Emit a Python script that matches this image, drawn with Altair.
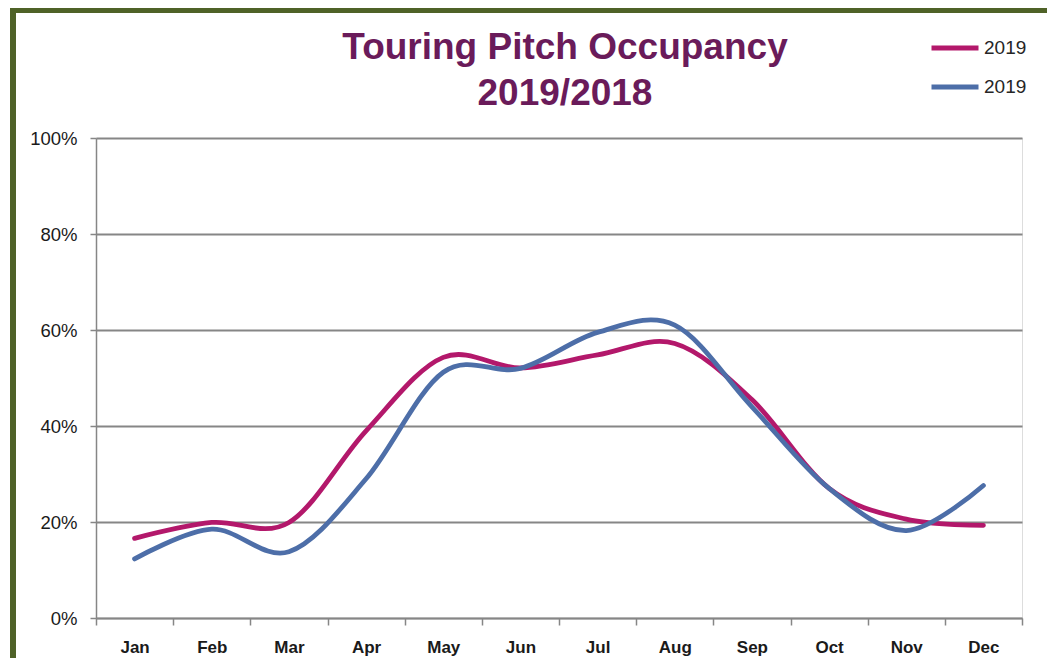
import altair as alt
import pandas as pd

months = ["Jan", "Feb", "Mar", "Apr", "May", "Jun", "Jul", "Aug", "Sep", "Oct", "Nov", "Dec"]
series_keys = ["2019-a", "2019-b"]
legend_labels = ["2019", "2019"]
occ_a = [16.6, 19.9, 19.9, 39.0, 54.3, 52.1, 54.8, 57.2, 45.5, 27.0, 20.6, 19.3]
occ_b = [12.3, 18.5, 13.8, 29.0, 51.2, 52.0, 59.5, 61.0, 44.0, 27.0, 18.2, 27.6]
title_lines = ["Touring Pitch Occupancy", "2019/2018"]
y_ticks = [0, 20, 40, 60, 80, 100]

rows = []
for m, a, b in zip(months, occ_a, occ_b):
    rows.append({"month": m, "series": series_keys[0], "value": a / 100})
    rows.append({"month": m, "series": series_keys[1], "value": b / 100})
df = pd.DataFrame(rows)

GRID = "#868686"
FONT = "Liberation Sans"
TITLE_COLOR = "#6A1B5A"

lines = alt.Chart(df).mark_line(
    interpolate="cardinal", strokeWidth=4.8, strokeCap="round"
).encode(
    x=alt.X(
        "month:N",
        sort=months,
        bandPosition=0.5,
        scale=alt.Scale(type="band", domain=months, paddingInner=0, paddingOuter=0),
        axis=alt.Axis(
            title=None,
            tickBand="extent",
            labelAngle=0,
            labelFont=FONT,
            labelFontSize=17,
            labelFontWeight="bold",
            labelColor="#1a1a1a",
            labelPadding=14,
            tickSize=7,
            tickColor=GRID,
            tickWidth=1.5,
            domainColor=GRID,
            domainWidth=1.5,
            grid=False,
        ),
    ),
    y=alt.Y(
        "value:Q",
        scale=alt.Scale(domain=[0, 1], nice=False),
        axis=alt.Axis(
            title=None,
            format=".0%",
            values=[v / 100 for v in y_ticks],
            labelFont=FONT,
            labelFontSize=18.5,
            labelColor="#1a1a1a",
            labelPadding=13,
            tickSize=6,
            tickColor=GRID,
            tickWidth=1.5,
            domainColor=GRID,
            domainWidth=1.5,
            grid=True,
            gridColor=GRID,
            gridWidth=1.8,
        ),
    ),
    color=alt.Color(
        "series:N",
        scale=alt.Scale(domain=series_keys, range=["#B3186B", "#4D6EA8"]),
        legend=alt.Legend(
            title=None,
            orient="none",
            legendX=833,
            legendY=-116,
            symbolType="stroke",
            symbolSize=2209,
            symbolStrokeWidth=4.8,
            labelExpr="slice(datum.label, 0, 4)",
            labelFont=FONT,
            labelFontSize=19,
            labelColor="#262626",
            labelOffset=3,
            rowPadding=3,
        ),
    ),
)

title_df = pd.DataFrame({"line": title_lines, "row": [0, 1]})
title1 = alt.Chart(title_df.iloc[[0]]).mark_text(
    font=FONT, fontSize=37, fontWeight="bold", color=TITLE_COLOR,
    align="center", baseline="alphabetic"
).encode(text="line:N", x=alt.value(469), y=alt.value(-79))
title2 = alt.Chart(title_df.iloc[[1]]).mark_text(
    font=FONT, fontSize=37, fontWeight="bold", color=TITLE_COLOR,
    align="center", baseline="alphabetic"
).encode(text="line:N", x=alt.value(469), y=alt.value(-33))

border = alt.Chart(pd.DataFrame({"k": [0]})).mark_rect(
    fill=None, stroke="#4F6228", strokeWidth=6
).encode(
    x=alt.value(-83), x2=alt.value(1100), y=alt.value(-128), y2=alt.value(700)
)

chart = alt.layer(border, lines, title1, title2).properties(
    width=926,
    height=480,
    autosize=alt.AutoSizeParams(type="none"),
    padding={"left": 88, "top": 130, "right": 25, "bottom": 40},
).configure_view(stroke=None).configure(background="white")

chart.save("out.html", embed_options={"renderer": "svg", "actions": False})
